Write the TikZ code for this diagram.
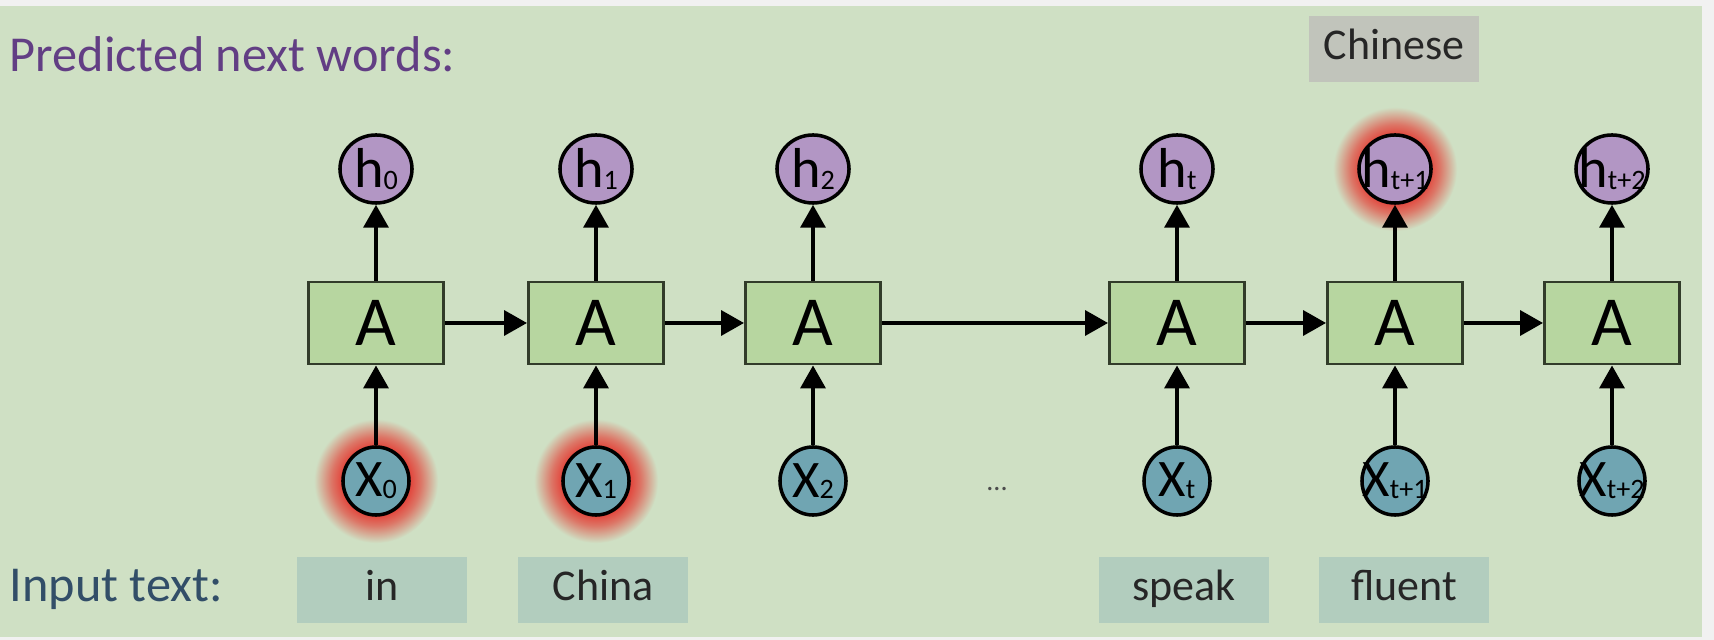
\documentclass[tikz,border=0pt]{standalone}
\usepackage{fontspec}
\setmainfont{Carlito}
\usepackage{xcolor}
\usepackage{tikz}
\usetikzlibrary{shapes.geometric, arrows.meta, positioning}
\definecolor{pagegray}{RGB}{241,241,241}
\definecolor{bggreen}{RGB}{207,224,196}
\definecolor{cellgreen}{RGB}{183,214,160}
\definecolor{celldark}{RGB}{50,60,42}
\definecolor{hpurple}{RGB}{178,150,196}
\definecolor{xteal}{RGB}{112,165,178}
\definecolor{wordbox}{RGB}{178,205,190}
\definecolor{predbox}{RGB}{193,196,187}
\definecolor{predtext}{RGB}{98,62,132}
\definecolor{inputtext}{RGB}{50,78,104}
\definecolor{glowred}{RGB}{226,72,62}
\pgfdeclareradialshading{redglow}{\pgfpoint{0bp}{0bp}}{color(0bp)=(glowred); color(14bp)=(glowred); color(18bp)=(glowred!70!bggreen); color(25bp)=(bggreen); color(50bp)=(bggreen)}
\newcommand{\subidx}[1]{\raisebox{-0.5pt}{\fontsize{8}{9}\selectfont #1}}
\tikzset{
  cell/.style={rectangle, draw=celldark, fill=cellgreen,
    minimum width=1.35cm, minimum height=0.82cm, inner sep=0pt,
    line width=0.8pt, font=\fontsize{20}{24}\selectfont},
  hnode/.style={ellipse, draw=black, fill=hpurple,
    minimum width=0.72cm, minimum height=0.68cm, inner sep=-4pt,
    line width=1pt, font=\fontsize{16}{18}\selectfont},
  xnode/.style={ellipse, draw=black, fill=xteal,
    minimum width=0.66cm, minimum height=0.68cm, inner sep=-4pt,
    line width=1pt, font=\fontsize{15}{17}\selectfont},
  word/.style={rectangle, fill=wordbox, text=black!85,
    minimum width=1.69cm, minimum height=0.65cm, inner sep=0pt,
    text height=1.6ex, text depth=0.35ex, font=\fontsize{12.5}{14}\selectfont},
  rowlabel/.style={anchor=base west, inner sep=0pt,
    font=\fontsize{14.3}{17}\selectfont},
  dotsnode/.style={text=black!70, font=\fontsize{8}{10}\selectfont, inner sep=0pt},
  arrow/.style={-{Triangle[length=6.5pt, width=7pt]}, line width=1.2pt},
  glow/.style={shading=redglow}
}
\begin{document}
\begin{tikzpicture}[x=0.01cm, y=-0.01cm]
  % page and panel
  \fill[pagegray] (0,0) rectangle (1714,640);
  \fill[bggreen] (0,6) rectangle (1702,637);
  \useasboundingbox (0,0) rectangle (1714,640);
  % red glow behind the highlighted words
  \shade[glow] (376,481) circle (0.62cm);
  \shade[glow] (596,481) circle (0.62cm);
  \shade[glow] (1395,169) circle (0.62cm);
  % row labels
  \node[rowlabel, text=predtext] (predlabel) at (9,72) {Predicted next words:};
  \node[rowlabel, text=inputtext] (inputlabel) at (9,602) {Input text:};
  % RNN cells
  \node[cell] (A0) at (376,323) {A};
  \node[cell] (A1) at (596,323) {A};
  \node[cell] (A2) at (813,323) {A};
  \node[cell] (At) at (1177,323) {A};
  \node[cell] (At1) at (1395,323) {A};
  \node[cell] (At2) at (1612,323) {A};
  % hidden outputs
  \node[hnode] (h0) at (376,169) {h\subidx{0}};
  \node[hnode] (h1) at (596,169) {h\subidx{1}};
  \node[hnode] (h2) at (813,169) {h\subidx{2}};
  \node[hnode] (ht) at (1177,169) {h\subidx{t}};
  \node[hnode] (ht1) at (1395,169) {h\subidx{t+1}};
  \node[hnode] (ht2) at (1612,169) {h\subidx{t+2}};
  % inputs
  \node[xnode] (x0) at (376,481) {X\subidx{0}};
  \node[xnode] (x1) at (596,481) {X\subidx{1}};
  \node[xnode] (x2) at (813,481) {X\subidx{2}};
  \node[xnode] (xt) at (1177,481) {X\subidx{t}};
  \node[xnode] (xt1) at (1395,481) {X\subidx{t+1}};
  \node[xnode] (xt2) at (1612,481) {X\subidx{t+2}};
  \node[dotsnode] (gap) at (997,489) {...};
  % input words
  \node[word] (win) at (382,590) {in};
  \node[word] (wchina) at (603,590) {China};
  \node[word] (wspeak) at (1184,590) {speak};
  \node[word] (wfluent) at (1404,590) {fluent};
  % predicted word
  \node[word, fill=predbox] (wchinese) at (1394,49) {Chinese};
  % input -> cell -> output
  \draw[arrow] (x0) -- (A0);
  \draw[arrow] (x1) -- (A1);
  \draw[arrow] (x2) -- (A2);
  \draw[arrow] (xt) -- (At);
  \draw[arrow] (xt1) -- (At1);
  \draw[arrow] (xt2) -- (At2);
  \draw[arrow] (A0) -- (h0);
  \draw[arrow] (A1) -- (h1);
  \draw[arrow] (A2) -- (h2);
  \draw[arrow] (At) -- (ht);
  \draw[arrow] (At1) -- (ht1);
  \draw[arrow] (At2) -- (ht2);
  % recurrent links
  \draw[arrow] (A0) -- (A1);
  \draw[arrow] (A1) -- (A2);
  \draw[arrow] (A2) -- (At);
  \draw[arrow] (At) -- (At1);
  \draw[arrow] (At1) -- (At2);
\end{tikzpicture}
\end{document}
